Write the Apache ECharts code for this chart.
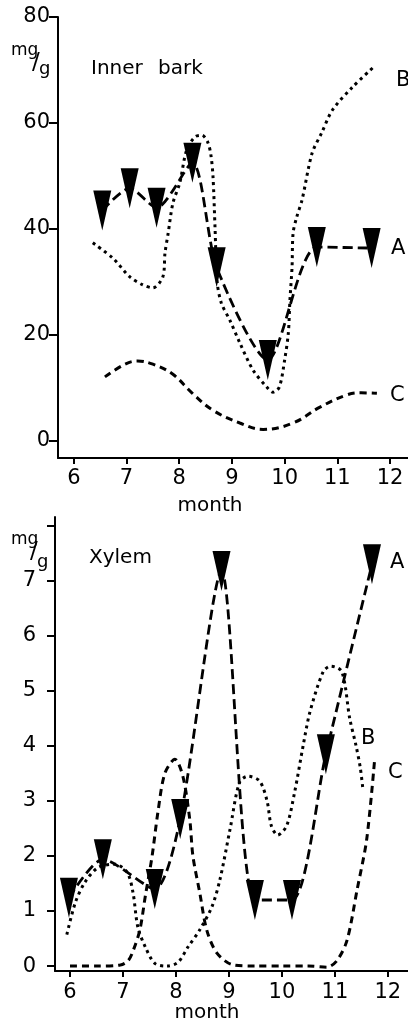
<!DOCTYPE html>
<html><head><meta charset="utf-8">
<script src="https://cdn.jsdelivr.net/npm/echarts@6/dist/echarts.min.js"></script>
<style>html,body{margin:0;padding:0;background:#fff}#c{width:408px;height:1022px}</style>
</head><body><div id="c"></div>
<script>
// ---- tick values ----
const monthTicks = [6, 7, 8, 9, 10, 11, 12];
const barkTicks = [0, 20, 40, 60, 80];
const xylemTicks = [0, 1, 2, 3, 4, 5, 6, 7, 8];
const xylemTickLabels = ['0', '1', '2', '3', '4', '5', '6', '7', ''];

// ---- Inner bark (mg/g) ----
const barkA_month = [6.54, 7.06, 7.57, 8.25, 8.71, 9.68, 10.61, 11.65];
const barkA_val   = [43.5, 47.7, 44.0, 52.5, 32.8, 15.3, 36.6, 36.4];

const barkB_month = [6.36, 6.74, 7.06, 7.3, 7.5, 7.69, 7.73, 7.79, 7.88, 8.01, 8.14, 8.3, 8.43, 8.54, 8.6, 8.64, 8.68, 8.72, 8.8, 8.96, 9.15, 9.4, 9.66, 9.78, 9.9, 10.0, 10.07, 10.1, 10.14, 10.16, 10.23, 10.33, 10.52, 10.7, 10.91, 11.29, 11.67];
const barkB_val   = [37.4, 34.5, 31.0, 29.5, 28.9, 31.0, 35.5, 39.2, 44.9, 48.7, 54.9, 57.4, 57.7, 56.4, 54.0, 50.0, 40.0, 30.0, 26.0, 22.8, 18.5, 13.4, 10.2, 9.2, 10.2, 15.3, 20.4, 26.6, 32.8, 39.2, 42.3, 45.5, 54.3, 58.1, 62.5, 66.8, 70.4];

const barkC_month = [6.59, 6.97, 7.21, 7.5, 7.88, 8.25, 8.64, 9.15, 9.59, 10.16, 10.67, 11.18, 11.45, 11.75];
const barkC_val   = [12.1, 14.5, 15.1, 14.5, 12.6, 9.0, 5.8, 3.4, 2.2, 3.4, 6.4, 8.7, 9.1, 9.0];

// ---- Xylem (mg/g) ----
const xylemA_month = [5.98, 6.62, 7.6, 8.08, 8.86, 9.49, 10.19, 10.83, 11.7];
const xylemA_val   = [1.24, 1.94, 1.4, 2.67, 7.18, 1.2, 1.2, 3.85, 7.3];

const xylemB_month = [5.94, 6.1, 6.28, 6.53, 6.85, 7.08, 7.19, 7.28, 7.42, 7.6, 7.83, 8.04, 8.23, 8.45, 8.68, 8.83, 9.02, 9.2, 9.36, 9.58, 9.72, 9.8, 9.92, 10.09, 10.24, 10.4, 10.53, 10.78, 10.92, 11.13, 11.28, 11.4, 11.48, 11.53];
const xylemB_val   = [0.57, 1.15, 1.52, 1.79, 1.85, 1.7, 1.33, 0.71, 0.35, 0.05, 0.0, 0.07, 0.35, 0.66, 1.08, 1.57, 2.48, 3.34, 3.45, 3.36, 3.0, 2.55, 2.38, 2.55, 3.16, 4.0, 4.62, 5.35, 5.45, 5.35, 4.5, 4.0, 3.6, 3.2];

const xylemC_month = [6.0, 6.5, 6.95, 7.1, 7.2, 7.32, 7.42, 7.55, 7.66, 7.79, 7.98, 8.13, 8.26, 8.32, 8.45, 8.58, 8.77, 9.08, 9.5, 10.0, 10.5, 10.85, 11.04, 11.23, 11.42, 11.6, 11.75];
const xylemC_val   = [0.0, 0.0, 0.02, 0.1, 0.3, 0.66, 1.26, 2.0, 2.8, 3.5, 3.76, 3.45, 2.67, 2.0, 1.33, 0.66, 0.24, 0.02, 0.0, 0.0, 0.0, -0.02, 0.1, 0.47, 1.39, 2.3, 3.75];

const zip = (a, b) => a.map((v, i) => [v, b[i]]);
const FONT = 'DejaVu Sans';

function xAx(gi, min, max, margin) {
  return {
    type: 'value', gridIndex: gi, min: min, max: max,
    axisLine: { show: true, onZero: false, lineStyle: { color: '#000', width: 2 } },
    axisTick: { show: true, customValues: monthTicks, length: 6, lineStyle: { color: '#000', width: 2 } },
    axisLabel: { customValues: monthTicks, color: '#000', fontSize: 21, fontFamily: FONT, margin: margin },
    splitLine: { show: false }
  };
}
function yAx(gi, min, max, ticks, fmt, margin, tlen) {
  return {
    type: 'value', gridIndex: gi, min: min, max: max,
    axisLine: { show: true, onZero: false, lineStyle: { color: '#000', width: 2 } },
    axisTick: { show: true, customValues: ticks, length: tlen, lineStyle: { color: '#000', width: 2 } },
    axisLabel: { customValues: ticks, color: '#000', fontSize: 21, fontFamily: FONT, margin: margin, formatter: fmt },
    splitLine: { show: false }
  };
}
function dashed(name, gi, data, dash, width, smooth) {
  return {
    name: name, type: 'line', xAxisIndex: gi, yAxisIndex: gi, data: data,
    showSymbol: false, smooth: smooth, silent: true,
    lineStyle: { color: '#000', width: width, type: dash, cap: 'butt' }
  };
}
function arrows(name, gi, data, smooth) {
  return {
    name: name, type: 'line', xAxisIndex: gi, yAxisIndex: gi, data: data,
    smooth: smooth, silent: true, showSymbol: true, showAllSymbol: true,
    symbol: 'triangle', symbolRotate: 180, symbolSize: [18, 40], z: 5,
    itemStyle: { color: '#000', borderWidth: 0 },
    lineStyle: { color: '#000', width: 2.8, type: [10, 5] }
  };
}
function txt(t, x, y, size, align) {
  return { type: 'text', x: x, y: y, silent: true,
    style: { text: t, fill: '#000', font: size + 'px "' + FONT + '"', textAlign: align || 'left', textVerticalAlign: 'middle' } };
}

const chart = echarts.init(document.getElementById('c'), null, { renderer: 'canvas' });
chart.setOption({
  animation: false,
  backgroundColor: '#fff',
  grid: [
    { left: 58, top: 17, width: 350, height: 441 },
    { left: 55, top: 517, width: 353, height: 454 }
  ],
  xAxis: [ xAx(0, 5.7, 12.34, 10), xAx(1, 5.717, 12.38, 11) ],
  yAxis: [
    yAx(0, -3.2, 80, barkTicks, v => String(v), 8, 9),
    yAx(1, -0.09, 8.16, xylemTicks, v => xylemTickLabels[xylemTicks.indexOf(Math.round(v))] || '', 19, 8)
  ],
  series: [
    dashed('B', 0, zip(barkB_month, barkB_val), [3, 4], 3, 0.3),
    dashed('C', 0, zip(barkC_month, barkC_val), [7, 5], 3, 0.4),
    arrows('A', 0, zip(barkA_month, barkA_val), 0.25),
    dashed('B', 1, zip(xylemB_month, xylemB_val), [3, 4], 3, 0.3),
    dashed('C', 1, zip(xylemC_month, xylemC_val), [7, 5], 3, 0.3),
    arrows('A', 1, zip(xylemA_month, xylemA_val), 0.25)
  ],
  graphic: [
    txt('mg', 11, 51, 17), txt('/', 32, 63, 23), txt('g', 39, 69, 18),
    txt('Inner', 91, 69, 20), txt('bark', 158, 69, 20),
    txt('B', 396, 81, 21), txt('A', 391, 249, 21), txt('C', 390, 396, 21),
    txt('month', 210, 506, 20, 'center'),
    txt('mg', 11, 540, 17), txt('/', 30, 552, 23), txt('g', 37, 562, 18),
    txt('Xylem', 89, 558, 20),
    txt('A', 390, 563, 21), txt('B', 361, 739, 21), txt('C', 388, 773, 21),
    txt('month', 207, 1013, 20, 'center')
  ]
});
</script>
</body></html>
